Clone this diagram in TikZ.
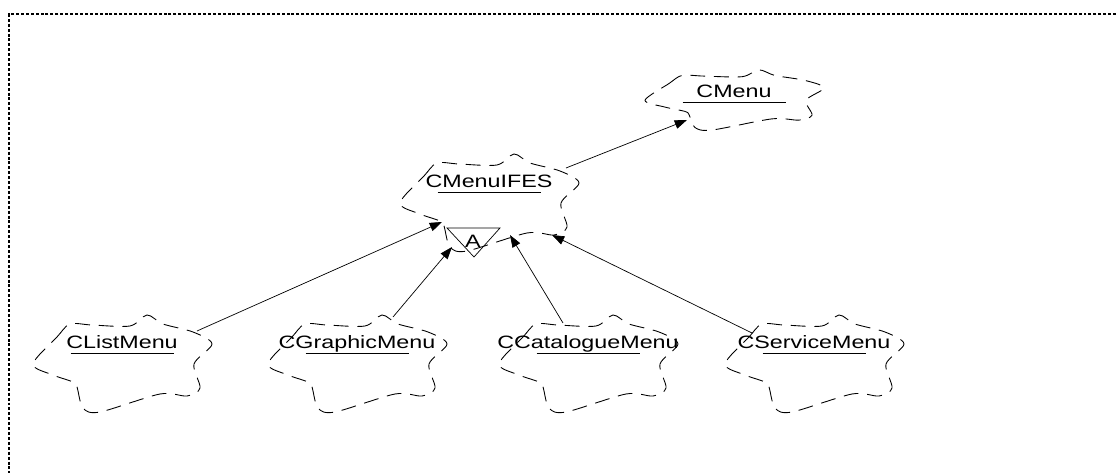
\documentclass[tikz,border=0pt]{standalone}
\usepackage{fontspec}
\setmainfont[FakeStretch=1.3]{Liberation Sans}
\usetikzlibrary{arrows.meta}

\tikzset{
  classcloud/.style={draw, line width=.5pt, dash pattern=on 8.5pt off 5pt},
  boochcloud/.pic={
    \draw[classcloud] plot[smooth cycle, tension=.5] coordinates {
      (-89,-15) (-65,12) (-52,25) (-30,24) (8,23) (25,34) (41,25) (71,17)
      (90,5) (72,-15) (78,-39) (65,-47) (38,-45) (-22,-63) (-39,-59)
      (-45,-38) (-49,-33) (-69,-26)};
  },
  classname/.style={anchor=base, inner sep=0pt},
}

\begin{document}
\begin{tikzpicture}[x=.02cm, y=.02cm, >={Triangle[length=7pt,width=5pt]},
  font=\fontsize{10.2}{12}\selectfont]
\useasboundingbox (0,0) rectangle (1116,473);
\draw[line width=1.1pt, dash pattern=on 1.7pt off 1.1pt] (1116,459) -| (9,0);
%
\node[classname] (menu) at (734,375) {CMenu};
\node[classname] (ifes) at (489,285) {CMenuIFES};
\node[classname] (list) at (122,124) {CListMenu};
\node[classname] (graphic) at (357,124) {CGraphicMenu};
\node[classname] (catalogue) at (588,124) {CCatalogueMenu};
\node[classname] (service) at (814,124) {CServiceMenu};
\pic[yscale=.62] at ([yshift=4]menu.base) {boochcloud};
\foreach \c in {ifes, list, graphic, catalogue, service}
  \pic at (\c.base) {boochcloud};
\foreach \c in {menu, ifes, list, graphic, catalogue, service}
  \draw ([shift={(-51.5,-4)}]\c.base) -- ++(103,0);
% abstract adornment
\node (abstract) at (473,232) {A};
\draw ([shift={(-26,13)}]abstract.center) -- ++(53,0) -- ++(-26,-29) -- cycle;
%
\draw[->] ([shift={(77,20)}]ifes.base) -- ([shift={(-47,-22)}]menu.base);
\draw[->] ([shift={(75,18)}]list.base) -- ([shift={(-47,-34)}]ifes.base);
\draw[->] ([shift={(36,32)}]graphic.base) -- ([shift={(-37,-59)}]ifes.base);
\draw[->] ([shift={(-25,26)}]catalogue.base) -- ([shift={(21,-47)}]ifes.base);
\draw[->] ([shift={(-62,16)}]service.base) -- ([shift={(63,-47)}]ifes.base);
\end{tikzpicture}
\end{document}
